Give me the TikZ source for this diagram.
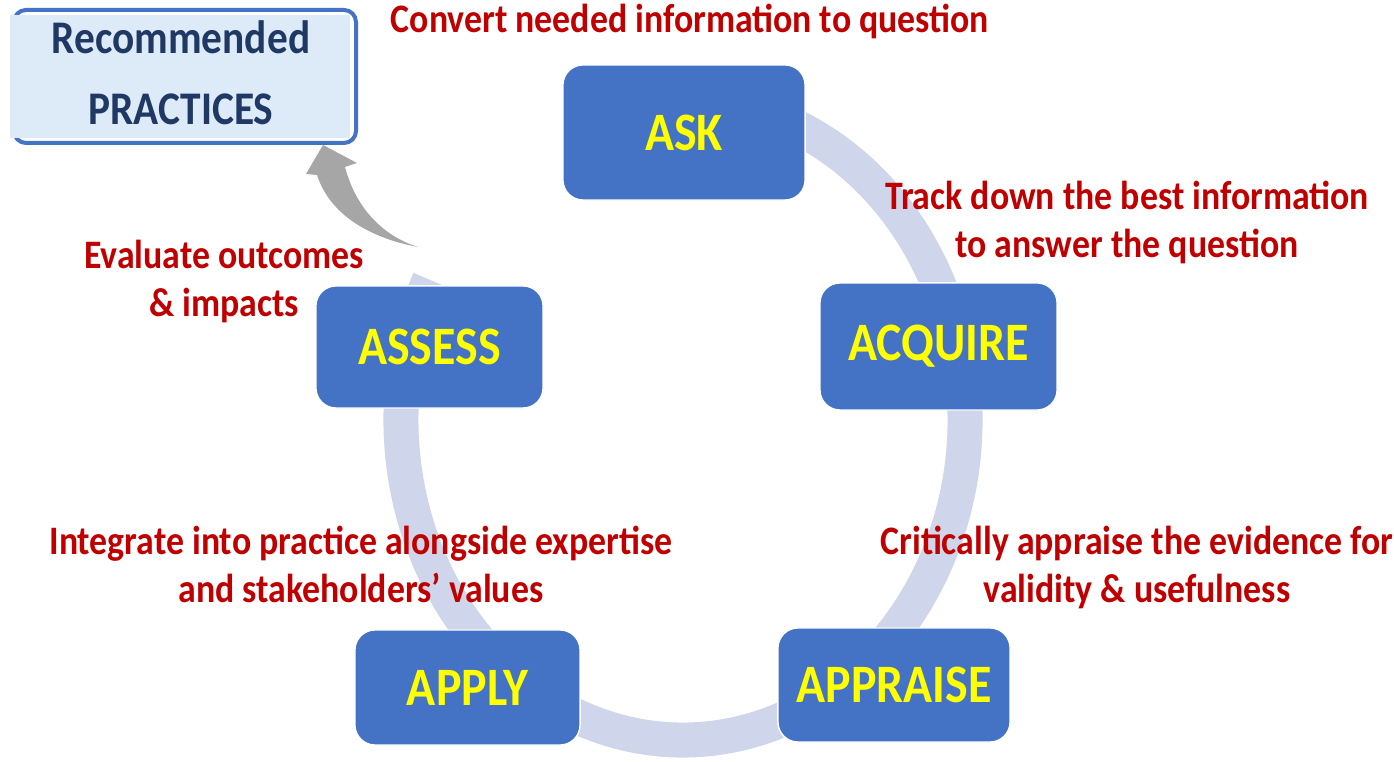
\documentclass[tikz,border=0pt]{standalone}
\usepackage{fontspec}
\setmainfont{Carlito}
\newfontfamily\diagfont[FakeStretch=0.885]{Carlito}
\usepackage{xcolor}

\definecolor{boxblue}{RGB}{68,114,196}
\definecolor{ringblue}{RGB}{207,213,234}
\definecolor{textred}{RGB}{192,0,0}
\definecolor{stepyellow}{RGB}{255,255,0}
\definecolor{recfillblue}{RGB}{221,234,247}
\definecolor{recnavy}{RGB}{31,56,100}
\definecolor{arrowgray}{RGB}{166,166,166}

\tikzset{
	stepbox/.style={draw=white, thin, fill=boxblue, rounded corners=2mm, text=stepyellow, font=\diagfont\fontsize{15.4}{18}\selectfont\bfseries, inner sep=0pt},
	steptext/.style={text=textred, font=\diagfont\fontsize{11.5}{13.7}\selectfont\bfseries, align=center, inner sep=0pt},
	rectext/.style={text=recnavy, font=\diagfont\fontsize{13.3}{16}\selectfont\bfseries, inner sep=0pt},
}

\begin{document}
\begin{tikzpicture}[x=0.01cm, y=-0.01cm]
	% Parameters
	\def\ringcx{683}
	\def\ringcy{420}
	\def\ringrx{282}
	\def\ringry{320}
	\def\ringwidth{0.35cm}
	
	\useasboundingbox (0,0) rectangle (1394,762);
	
	%ring
	\coordinate (ringstart) at ({\ringcx+\ringrx*cos(206)}, {\ringcy+\ringry*sin(206)});
	\draw[ringblue, line width=\ringwidth] (ringstart) arc[start angle=206, end angle=-107, x radius=\ringrx, y radius=\ringry];
	
	%steps
	\node[stepbox, minimum width=2.42cm, minimum height=1.35cm] (ask) at (684,132.5) {ASK};
	\node[stepbox, minimum width=2.37cm, minimum height=1.27cm] (acquire) at (938.5,346.5) {ACQUIRE};
	\node[stepbox, minimum width=2.32cm, minimum height=1.14cm] (appraise) at (894,685) {APPRAISE};
	\node[stepbox, minimum width=2.25cm, minimum height=1.15cm] (apply) at (467.5,687.5) {APPLY};
	\node[stepbox, minimum width=2.27cm, minimum height=1.22cm] (assess) at (429.5,347) {ASSESS};
	
	%recommended practices
	\draw[boxblue, line width=0.04cm, rounded corners=1.2mm] (14,10) rectangle (356,143);
	\fill[recfillblue] (10,15) rectangle (350,138);
	\node[rectext, anchor=base] (recommended) at (181,54) {Recommended};
	\node[rectext, anchor=base] (practices) at (181,125) {PRACTICES};
	
	%arrow to practices
	\fill[arrowgray] (418,247) .. controls (370,238) and (330,215) .. (317,175) -- (306,174) -- (323,145) -- (357,163) -- (345,167) .. controls (355,205) and (380,235) .. (418,247) -- cycle;
	
	%labels (base = last line)
	\node[steptext, anchor=base] (convert) at (690,33) {Convert needed information to question};
	\node[steptext, anchor=base] (track) at (1127,258) {Track down the best information\\to answer the question};
	\node[steptext, anchor=base] (critically) at (1137,603) {Critically appraise the evidence for\\validity \& usefulness};
	\node[steptext, anchor=base] (integrate) at (361,603) {Integrate into practice alongside expertise\\and stakeholders’ values};
	\node[steptext, anchor=base] (evaluate) at (224,317) {Evaluate outcomes\\\& impacts};
	
\end{tikzpicture}
\end{document}
